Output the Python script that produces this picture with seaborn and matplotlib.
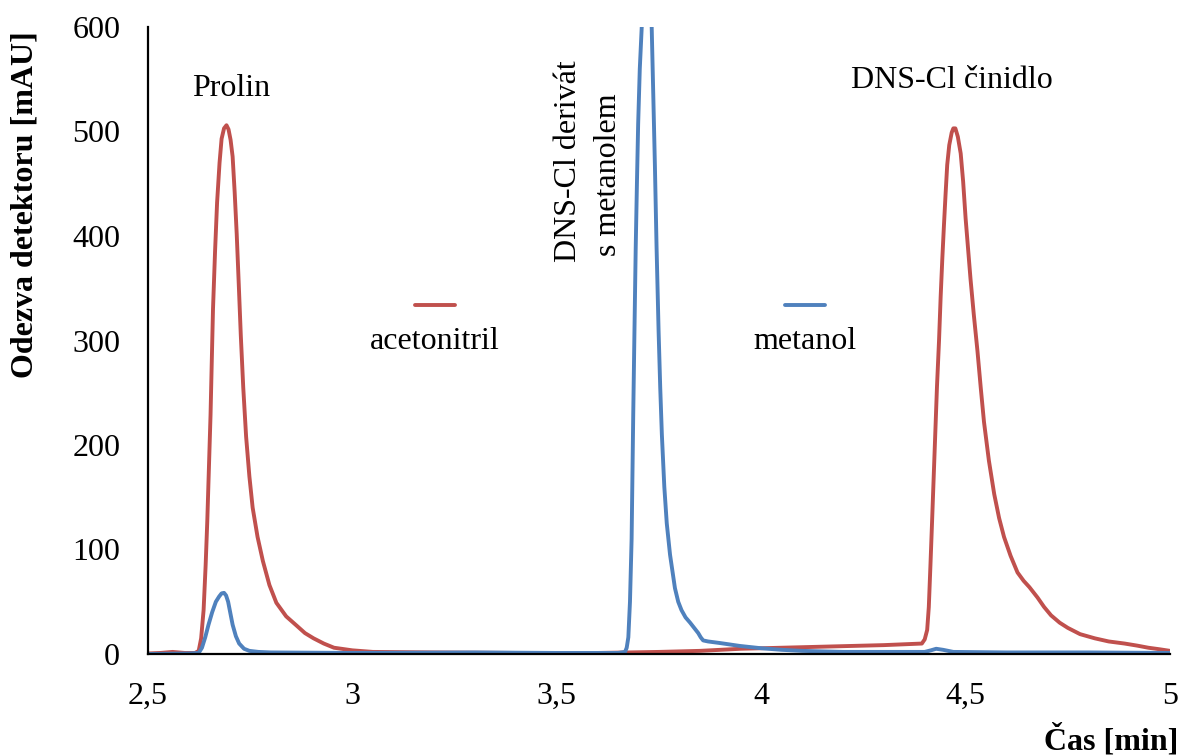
import numpy as np
import pandas as pd
import seaborn as sns
import matplotlib
matplotlib.use("Agg")
import matplotlib.pyplot as plt
from matplotlib.lines import Line2D

# ---- data ----
t_acn = [2.50, 2.53, 2.56, 2.59, 2.615, 2.624, 2.630, 2.636, 2.641, 2.645, 2.649,
         2.653, 2.656, 2.659, 2.664, 2.669, 2.675, 2.680, 2.686, 2.692, 2.697,
         2.702, 2.707, 2.712, 2.717, 2.722, 2.727, 2.733, 2.740, 2.748, 2.756,
         2.768, 2.781, 2.797, 2.814, 2.838, 2.864, 2.884, 2.905, 2.930, 2.955,
         3.0, 3.05, 3.2, 3.4, 3.6, 3.75, 3.85, 3.9, 3.95, 4.0, 4.1, 4.2, 4.3,
         4.393, 4.400, 4.406, 4.410, 4.414, 4.418, 4.422, 4.426, 4.430, 4.435,
         4.439, 4.443, 4.447, 4.451, 4.455, 4.460, 4.466, 4.470, 4.475, 4.481,
         4.488, 4.494, 4.500, 4.506, 4.512, 4.520, 4.529, 4.537, 4.545, 4.557,
         4.570, 4.582, 4.594, 4.610, 4.627, 4.642, 4.656, 4.666, 4.676, 4.692,
         4.709, 4.730, 4.750, 4.780, 4.816, 4.850, 4.889, 4.920, 4.947, 4.975, 5.0]
v_acn = [0.5, 1, 2, 1, 1, 3, 15, 42, 85, 127, 178,
         229, 280, 330, 385, 432, 470, 493, 503, 506, 502,
         492, 476, 442, 402, 354, 305, 255, 208, 170, 140,
         112, 89, 66, 49, 36, 27, 20, 15, 10, 6,
         3.5, 2, 1.5, 1, 1, 2, 3, 4, 5, 5.5, 6.5, 7.5, 8.5,
         10, 14, 23, 45, 85, 127, 170, 213, 256, 300,
         342, 378, 410, 440, 468, 487, 499, 503, 503, 495,
         479, 452, 417, 388, 359, 325, 290, 255, 222, 185,
         153, 130, 112, 94, 78, 70, 64, 59, 54, 45,
         37, 30, 25, 19, 15, 12, 10, 8, 6, 4.5, 3]

t_meoh = [2.50, 2.60, 2.624, 2.632, 2.640, 2.648, 2.657, 2.666, 2.674, 2.680, 2.686,
          2.691, 2.696, 2.701, 2.707, 2.715, 2.723, 2.735, 2.748, 2.77, 2.8, 3.0,
          3.3, 3.5, 3.65, 3.667, 3.671, 3.675, 3.679, 3.683, 3.685, 3.687, 3.690,
          3.693, 3.696, 3.699, 3.703, 3.708, 3.714, 3.720, 3.726, 3.732, 3.736,
          3.740, 3.744, 3.749, 3.753, 3.757, 3.763, 3.769, 3.777, 3.789, 3.797,
          3.805, 3.815, 3.826, 3.836, 3.846, 3.852, 3.858, 3.870, 3.899, 3.948,
          4.0, 4.05, 4.1, 4.2, 4.3, 4.4, 4.415, 4.428, 4.445, 4.47, 4.6, 4.8, 5.0]
v_meoh = [0, 0.5, 1, 6, 16, 28, 40, 50, 55, 58, 58.5,
          56, 50, 40, 28, 17, 10, 5, 3, 2, 1.5, 1,
          1.5, 1, 1, 2, 6, 16, 50, 110, 170, 230, 310,
          388, 450, 507, 560, 602, 660, 690, 660, 602, 535,
          467, 390, 309, 255, 210, 160, 125, 95, 63, 50,
          42, 35, 30, 25, 20, 16, 13, 12, 10.5, 7.7,
          5.5, 4, 3, 2, 2, 2, 3.5, 5, 4, 2, 1.5, 1.5, 1]

series_names = ["acetonitril", "metanol"]
series_colors = ["#C0504D", "#4F81BD"]
x_ticks = [2.5, 3, 3.5, 4, 4.5, 5]
x_ticklabels = ["2,5", "3", "3,5", "4", "4,5", "5"]
y_ticks = [0, 100, 200, 300, 400, 500, 600]

df = pd.concat([
    pd.DataFrame({"t": t_acn, "v": v_acn, "s": series_names[0]}),
    pd.DataFrame({"t": t_meoh, "v": v_meoh, "s": series_names[1]}),
])

sns.set_theme(style="white")
plt.rcParams["font.family"] = ["Liberation Serif", "DejaVu Serif"]
plt.rcParams["text.color"] = "black"
plt.rcParams["axes.labelcolor"] = "black"
plt.rcParams["xtick.color"] = "black"
plt.rcParams["ytick.color"] = "black"

W, H = 1181, 756
fig = plt.figure(figsize=(W / 100, H / 100), dpi=100)
ax = fig.add_axes([148 / W, 1 - 654 / H, (1170 - 148) / W, (654 - 27) / H])

LW = 2.8
sns.lineplot(data=df, x="t", y="v", hue="s", hue_order=series_names,
             palette=series_colors, estimator=None, sort=False,
             linewidth=LW, legend=False, ax=ax)
for ln in ax.get_lines():
    ln.set_solid_joinstyle("round")
    ln.set_solid_capstyle("round")

ax.set_xlim(2.5, 5)
ax.set_ylim(0, 600)
ax.set_xticks(x_ticks)
ax.set_xticklabels(x_ticklabels)
ax.set_yticks(y_ticks)
ax.set_xlabel("")
ax.set_ylabel("")
for sp in ["top", "right"]:
    ax.spines[sp].set_visible(False)
for sp in ["left", "bottom"]:
    ax.spines[sp].set_color("black")
    ax.spines[sp].set_linewidth(1.6)
ax.tick_params(axis="both", direction="out", length=7, width=1.4, color="black",
               labelsize=23, labelcolor="black")
ax.tick_params(axis="x", pad=13)
ax.tick_params(axis="y", pad=13)

fs = 23
# axis titles
fig.text(25 / W, 1 - 205 / H, "Odezva detektoru [mAU]", rotation=90, fontsize=23,
         fontweight="bold", ha="center", va="center")
fig.text(1178 / W, 1 - 740 / H, "Čas [min]", fontsize=23, fontweight="bold",
         ha="right", va="center")

# annotations
fig.text(231 / W, 1 - 88 / H, "Prolin", fontsize=fs, ha="center", va="center")
fig.text(952 / W, 1 - 80 / H, "DNS-Cl činidlo", fontsize=fs, ha="center", va="center")
fig.text(569 / W, 1 - 161 / H, "DNS-Cl derivát", rotation=90,
         fontsize=fs, ha="center", va="center")
fig.text(609 / W, 1 - 175 / H, "s metanolem", rotation=90,
         fontsize=fs, ha="center", va="center")

# legend (swatch above label)
for (x0, x1, xc, name, col) in [(415, 455, 435, series_names[0], series_colors[0]),
                                (785, 825, 805, series_names[1], series_colors[1])]:
    fig.add_artist(Line2D([x0 / W, x1 / W], [1 - 305 / H, 1 - 305 / H],
                          color=col, linewidth=LW))
    fig.text(xc / W, 1 - 342 / H, name, fontsize=fs, ha="center", va="center")

fig.savefig("out.png", dpi=100)
